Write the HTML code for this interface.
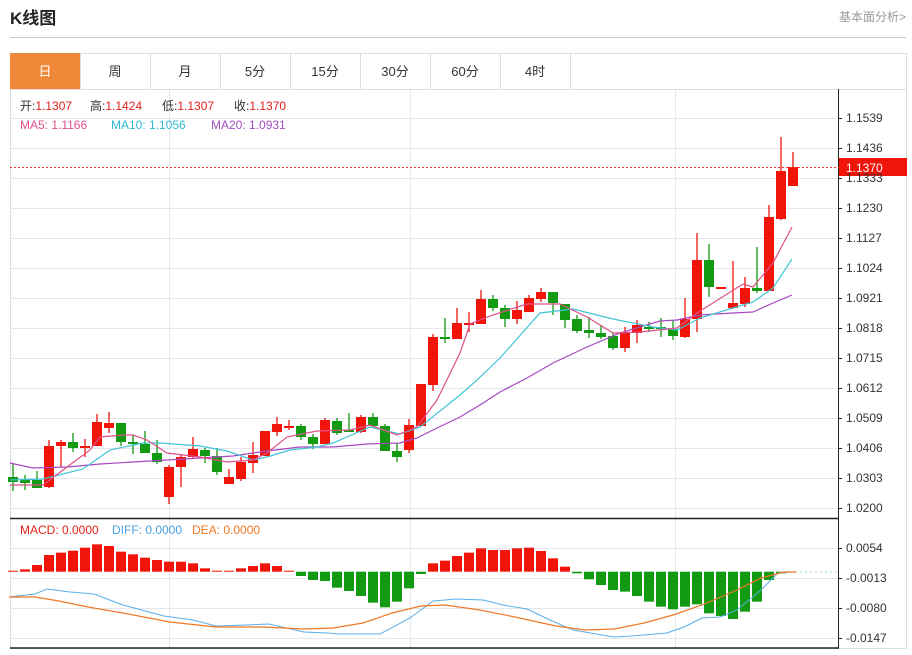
<!DOCTYPE html>
<html><head><meta charset="utf-8"><style>
body{margin:0;background:#fff;width:912px;height:650px;overflow:hidden;font-family:"Liberation Sans","Noto Sans CJK SC",sans-serif;}
</style></head><body>
<svg id="s" width="912" height="650" xmlns="http://www.w3.org/2000/svg" font-family="Liberation Sans, Noto Sans CJK SC, sans-serif">
<text x="10" y="24" font-size="17" font-weight="bold" fill="#222">K线图</text>
<text x="906" y="21" font-size="12" fill="#999" text-anchor="end">基本面分析&gt;</text>
<line x1="10" y1="37.5" x2="906" y2="37.5" stroke="#ccc"/>
<rect x="10.5" y="53.5" width="896" height="595" fill="none" stroke="#ddd"/>
<line x1="10" y1="89.5" x2="907" y2="89.5" stroke="#ddd"/>
<rect x="10" y="53" width="70" height="36" fill="#f0883a"/>
<g stroke="#ddd"><line x1="80.5" y1="53" x2="80.5" y2="89"/><line x1="150.5" y1="53" x2="150.5" y2="89"/><line x1="220.5" y1="53" x2="220.5" y2="89"/><line x1="290.5" y1="53" x2="290.5" y2="89"/><line x1="360.5" y1="53" x2="360.5" y2="89"/><line x1="430.5" y1="53" x2="430.5" y2="89"/><line x1="500.5" y1="53" x2="500.5" y2="89"/><line x1="570.5" y1="53" x2="570.5" y2="89"/></g>
<g font-size="13" text-anchor="middle" fill="#333"><text x="45" y="76" fill="#fff">日</text><text x="115" y="76">周</text><text x="185" y="76">月</text><text x="255" y="76">5分</text><text x="325" y="76">15分</text><text x="395" y="76">30分</text><text x="465" y="76">60分</text><text x="535" y="76">4时</text></g>
<g id="grid" stroke="#e4e8ee" stroke-width="1"></g>
<g id="main"></g>
<line x1="10" y1="518.5" x2="839" y2="518.5" stroke="#222" stroke-width="1.5"/>
<line x1="10" y1="648" x2="839" y2="648" stroke="#222" stroke-width="1.5"/>
<line x1="838.5" y1="89" x2="838.5" y2="648" stroke="#222"/>
<line x1="10" y1="167.5" x2="839" y2="167.5" stroke="#f33" stroke-dasharray="2,2"/>
<rect x="839" y="158" width="68" height="18" fill="#f0140a"/>
<text x="846" y="172" font-size="12" fill="#fff">1.1370</text>
<g font-size="12">
<text x="20" y="110" fill="#333">开:<tspan fill="#e0201a">1.1307</tspan></text>
<text x="90" y="110" fill="#333">高:<tspan fill="#e0201a">1.1424</tspan></text>
<text x="162" y="110" fill="#333">低:<tspan fill="#e0201a">1.1307</tspan></text>
<text x="234" y="110" fill="#333">收:<tspan fill="#e0201a">1.1370</tspan></text>
<text x="20" y="129" fill="#e0508a">MA5: 1.1166</text>
<text x="111" y="129" fill="#30b8d0">MA10: 1.1056</text>
<text x="211" y="129" fill="#a050c0">MA20: 1.0931</text>
<text x="20" y="534" fill="#e0201a">MACD: 0.0000</text>
<text x="112" y="534" fill="#4aa0e0">DIFF: 0.0000</text>
<text x="192" y="534" fill="#f07820">DEA: 0.0000</text></g>
</svg>
<script>
var s=document.getElementById('s'),g=document.getElementById('grid'),m=document.getElementById('main');
function E(t,a,p){var e=document.createElementNS('http://www.w3.org/2000/svg',t);for(var k in a)e.setAttribute(k,a[k]);(p||m).appendChild(e);return e;}
var labs=['1.1539','1.1436','1.1333','1.1230','1.1127','1.1024','1.0921','1.0818','1.0715','1.0612','1.0509','1.0406','1.0303','1.0200'];
labs.forEach(function(l,i){var y=118+30*i;E('line',{x1:10,y1:y+.5,x2:838,y2:y+.5},g);E('line',{x1:838,y1:y+.5,x2:842,y2:y+.5,stroke:'#222'},s);E('text',{x:846,y:y+4,'font-size':12,fill:'#333'},s).textContent=l;});
[[548,'0.0054'],[578,'-0.0013'],[608,'-0.0080'],[638,'-0.0147']].forEach(function(a){E('line',{x1:10,y1:a[0]+.5,x2:838,y2:a[0]+.5},g);E('line',{x1:838,y1:a[0]+.5,x2:842,y2:a[0]+.5,stroke:'#222'},s);E('text',{x:846,y:a[0]+4,'font-size':12,fill:'#333'},s).textContent=a[1];});
[169,410,675].forEach(function(x){E('line',{x1:x+.5,y1:90,x2:x+.5,y2:648},g);});
var C=[[477,482,464,491],[479,483,475,490],[480,488,471,488],[487,446,440,488],[446,442,440,467],[442,448,433,452],[448,446,439,457],[446,422,414,446],[428,423,412,433],[423,442,423,446],[442,444,435,454],[444,453,431,453],[453,462,440,464],[497,467,465,504],[467,457,454,487],[457,449,437,459],[450,456,448,463],[456,472,448,475],[484,477,469,484],[479,462,457,481],[463,455,442,473],[456,431,431,456],[432,424,417,436],[427,426,420,430],[426,437,424,440],[437,444,434,449],[444,420,418,444],[421,433,418,435],[430,432,413,432],[432,417,415,433],[417,426,413,427],[426,451,424,451],[451,457,443,462],[450,425,419,453],[426,384,384,426],[385,337,334,391],[337,339,318,343],[339,323,308,339],[325,323,312,332],[324,299,290,324],[299,308,295,311],[308,319,305,327],[319,310,301,324],[312,298,295,312],[299,292,288,302],[292,303,292,315],[304,320,304,328],[319,331,315,333],[330,333,317,338],[333,337,325,339],[336,348,333,350],[348,333,327,352],[333,325,320,343],[327,327,322,332],[327,329,318,337],[329,336,320,340],[337,319,298,338],[319,260,233,332],[260,287,244,297],[288,287,287,288],[308,303,261,309],[304,288,277,307],[288,291,247,293],[291,217,205,291],[219,171,137,220],[186,167,152,186]];
C.forEach(function(c,i){var x=13+12*i;var up=c[1]<c[0];var col=up?'#f0140a':'#129b12';var t=Math.min(c[0],c[1]),b=Math.max(c[0],c[1]);E('line',{x1:x,y1:c[2],x2:x,y2:c[3],stroke:col,'stroke-width':1.3});E('rect',{x:x-5,y:t,width:10,height:Math.max(b-t,2),fill:col});});
function P(pts,col,w){E('polyline',{points:pts.map(function(p){return p.join(',')}).join(' '),fill:'none',stroke:col,'stroke-width':w||1.2});}
P([[10,463],[33,468],[67,467],[100,464],[133,462],[167,460],[200,458],[233,456],[267,451],[300,447],[333,447],[367,444],[400,443],[417,438],[433,430],[460,417],[480,405],[500,392],[527,378],[553,363],[587,347],[620,333],[660,321],[677,320],[700,315],[733,313],[753,312],[773,303],[792,295]],'#a848c0');
P([[10,480],[43,479],[83,469],[110,450],[143,443],[160,443],[200,446],[227,451],[253,460],[267,457],[290,450],[317,447],[333,443],[370,427],[400,434],[420,427],[460,395],[477,380],[500,358],[540,313],[573,309],[613,319],[653,327],[677,330],[700,318],[733,308],[753,302],[773,288],[792,259]],'#40c4d4');
P([[10,485],[43,485],[67,467],[90,450],[100,437],[123,435],[133,435],[147,440],[167,453],[200,457],[227,462],[253,460],[267,453],[287,437],[317,431],[350,430],[370,425],[397,435],[417,427],[437,400],[460,353],[470,324],[493,315],[527,304],[560,304],[587,317],[613,333],[640,332],[677,328],[697,313],[743,284],[753,287],[773,263],[792,227]],'#e05088');
var T=[185,178,165,135,128,122,113,103,108,125,133,143,150,155,155,160,175,184,185,175,168,160,168,182,198,210,213,233,243,258,278,292,275,235,192,160,152,138,128,115,120,120,115,113,123,145,170,190,208,225,240,245,258,275,290,298,290,283,310,318,327,305,275,210,190];
var z=571.7;
T.forEach(function(v,i){var x=13+12*i;var y=510+v/3;var h=y-z;var col=h<0?'#f0140a':'#129b12';if(Math.abs(h)<1)h=h<0?-1:1;E('rect',{x:x-5,y:Math.min(z,z+h),width:10,height:Math.abs(h),fill:col});});
E('line',{x1:790,y1:572,x2:838,y2:572,stroke:'#9cc',"stroke-dasharray":'2,3'});
P([[9,597],[35,594],[47,589],[70,592],[94,594],[123,605],[164,616],[193,620],[216,626],[246,625],[269,624],[304,632],[328,633],[339,634],[380,634],[410,618],[433,601],[456,599],[483,600],[503,605],[527,609],[550,620],[573,630],[614,637],[632,636],[667,633],[684,627],[702,618],[720,617],[737,610],[761,590],[778,573],[793,572]],'#5aaee8',1);
P([[9,597],[35,597],[59,601],[88,607],[123,613],[170,622],[216,627],[263,627],[304,629],[333,628],[363,623],[392,613],[421,606],[445,605],[480,610],[515,617],[556,626],[585,630],[614,629],[644,623],[673,615],[702,605],[737,590],[761,578],[784,572],[796,572]],'#f07828',1.2);
</script>
</body></html>
